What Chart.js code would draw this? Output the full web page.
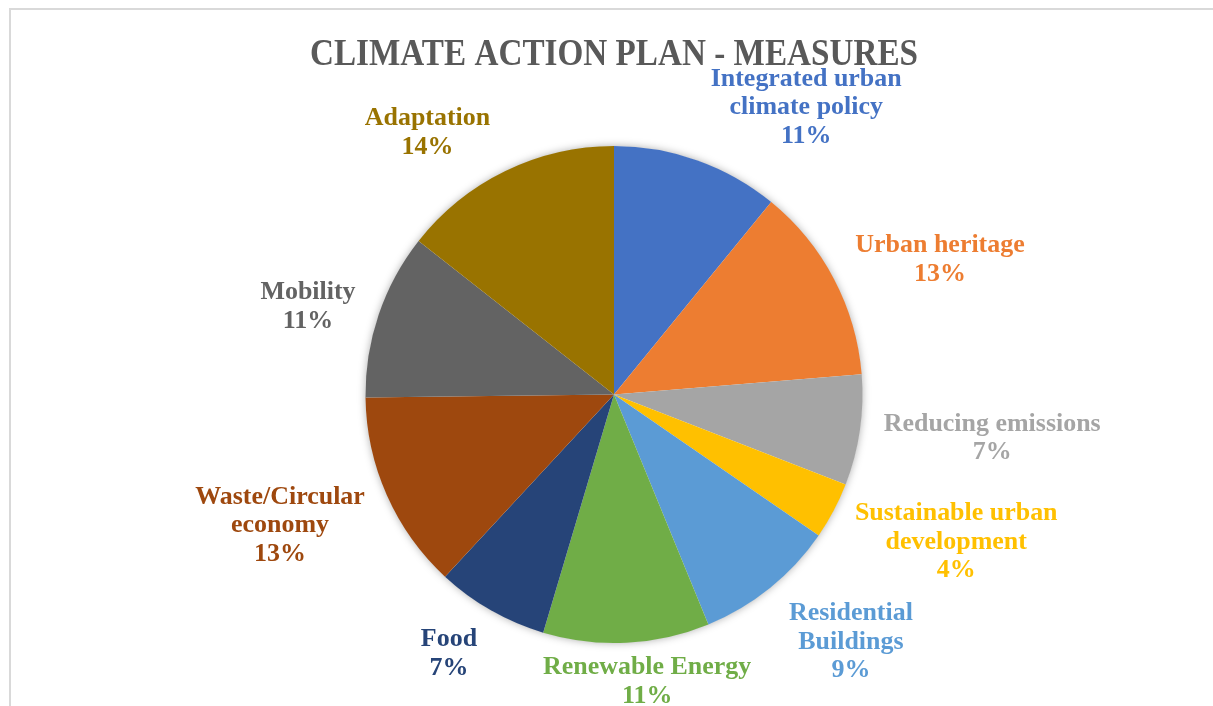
<!DOCTYPE html>
<html>
<head>
<meta charset="utf-8">
<script src="https://cdn.jsdelivr.net/npm/chart.js@4.4.1/dist/chart.umd.min.js"></script>
<style>
  html, body { margin: 0; padding: 0; background: #ffffff; }
  #wrap { width: 1213px; height: 706px; position: relative; }
</style>
</head>
<body>
<div id="wrap"><canvas id="c" width="1213" height="706"></canvas></div>
<script>
// ---- data ----
const chartTitle = 'CLIMATE ACTION PLAN - MEASURES';
const categories = [
  'Integrated urban climate policy',
  'Urban heritage',
  'Reducing emissions',
  'Sustainable urban development',
  'Residential Buildings',
  'Renewable Energy',
  'Food',
  'Waste/Circular economy',
  'Mobility',
  'Adaptation'
];
const labelLines = [
  ['Integrated urban', 'climate policy'],
  ['Urban heritage'],
  ['Reducing emissions'],
  ['Sustainable urban', 'development'],
  ['Residential', 'Buildings'],
  ['Renewable Energy'],
  ['Food'],
  ['Waste/Circular', 'economy'],
  ['Mobility'],
  ['Adaptation']
];
const shares = [10.9, 12.8, 7.2, 3.7, 9.2, 10.8, 7.3, 12.9, 10.8, 14.4];
const sliceColors = ['#4472C4', '#ED7D31', '#A5A5A5', '#FFC000', '#5B9BD5',
                     '#70AD47', '#264478', '#9E480E', '#636363', '#997300'];

// ---- style / layout ----
const FONT_FAMILY = '"Liberation Serif", "DejaVu Serif", serif';
const CAP_RATIO = 0.662;
const TITLE_SIZE = 37.5, TITLE_COLOR = '#595959', TITLE_BASE = 64.5, TITLE_W = 608;
const LABEL_SIZE = 25.5, LINE_H = 28.5, LABEL_GAP = 8, REF_LABEL_W = 217;
const labelNudge = [[74, -7], [24, -4], [17, 1], [26, 6], [37, 13],
                    [15, 1], [-24, 10], [-22, 8], [-18, 2], [-47, -7]];

const framePlugin = {
  id: 'frame',
  beforeDraw(chart) {
    const ctx = chart.ctx;
    ctx.save();
    ctx.fillStyle = '#ffffff';
    ctx.fillRect(0, 0, chart.width, chart.height);
    ctx.strokeStyle = '#D9D9D9';
    ctx.lineWidth = 2;
    ctx.beginPath();
    ctx.moveTo(10, chart.height);
    ctx.lineTo(10, 9);
    ctx.lineTo(chart.width, 9);
    ctx.stroke();
    // title
    ctx.font = `bold ${TITLE_SIZE}px ${FONT_FAMILY}`;
    ctx.fillStyle = TITLE_COLOR;
    ctx.textAlign = 'center';
    ctx.textBaseline = 'alphabetic';
    const tw = ctx.measureText(chartTitle).width;
    const sx = TITLE_W / tw;
    ctx.translate(614, TITLE_BASE);
    ctx.scale(sx, 1);
    ctx.fillText(chartTitle, 0, 0);
    ctx.restore();
  },
  beforeDatasetsDraw(chart) {
    const arc = chart.getDatasetMeta(0).data[0];
    if (!arc) return;
    const ctx = chart.ctx;
    ctx.save();
    ctx.shadowColor = 'rgba(0,0,0,0.35)';
    ctx.shadowBlur = 9;
    ctx.fillStyle = '#ffffff';
    ctx.beginPath();
    ctx.arc(arc.x, arc.y, arc.outerRadius - 0.5, 0, Math.PI * 2);
    ctx.fill();
    ctx.restore();
  }
};

const labelPlugin = {
  id: 'outLabels',
  afterDatasetsDraw(chart) {
    const ctx = chart.ctx;
    const meta = chart.getDatasetMeta(0);
    const total = shares.reduce((a, b) => a + b, 0);
    ctx.save();
    ctx.font = `bold ${LABEL_SIZE}px ${FONT_FAMILY}`;
    const hs = REF_LABEL_W / ctx.measureText('Reducing emissions').width;
    ctx.textAlign = 'center';
    ctx.textBaseline = 'alphabetic';
    const capHalf = LABEL_SIZE * CAP_RATIO / 2;
    meta.data.forEach((arc, i) => {
      const p = arc.getProps(['x', 'y', 'startAngle', 'endAngle', 'outerRadius'], true);
      const mid = (p.startAngle + p.endAngle) / 2;
      const dx = Math.cos(mid), dy = Math.sin(mid);
      const lines = labelLines[i].concat([Math.round(shares[i] / total * 100) + '%']);
      const w = Math.max(...lines.map(l => ctx.measureText(l).width)) * hs;
      const h = lines.length * LINE_H;
      const cx = p.x + (p.outerRadius + LABEL_GAP) * dx + dx * w / 2 + labelNudge[i][0];
      const cy = p.y + (p.outerRadius + LABEL_GAP) * dy + dy * h / 2 + labelNudge[i][1];
      ctx.fillStyle = sliceColors[i];
      lines.forEach((l, k) => {
        const by = cy - h / 2 + LINE_H * k + LINE_H / 2 + capHalf;
        ctx.save();
        ctx.translate(cx, by);
        ctx.scale(hs, 1);
        ctx.fillText(l, 0, 0);
        ctx.restore();
      });
    });
    ctx.restore();
  }
};

new Chart(document.getElementById('c'), {
  type: 'pie',
  data: {
    labels: categories,
    datasets: [{
      data: shares,
      backgroundColor: sliceColors,
      borderWidth: 0
    }]
  },
  options: {
    responsive: false,
    animation: false,
    layout: { padding: { top: 146, bottom: 63, left: 200, right: 185 } },
    plugins: {
      legend: { display: false },
      title: { display: false },
      tooltip: { enabled: false }
    }
  },
  plugins: [framePlugin, labelPlugin]
});
</script>
</body>
</html>
